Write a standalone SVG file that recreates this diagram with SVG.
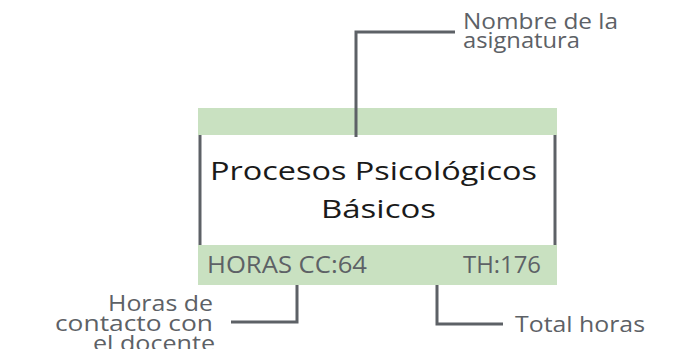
<svg xmlns="http://www.w3.org/2000/svg" width="681" height="349" viewBox="0 0 681 349">
<style>
.bar{fill:#c9e1c1}
.edge{stroke:#5d6166;stroke-width:3;fill:none}
.lbl{font-family:"Open Sans","Liberation Sans",sans-serif;font-size:22px;fill:#5d6166}
.bartxt{font-family:"Open Sans","Liberation Sans",sans-serif;font-size:23px;fill:#5d6166}
.title{font-family:"Open Sans","Liberation Sans",sans-serif;font-size:26px;fill:#1a1a1a}
</style>
<rect width="681" height="349" fill="#ffffff"/>
<g id="card">
<rect class="bar" x="198" y="108" width="359" height="27"/>
<line class="edge" x1="200" y1="135" x2="200" y2="245"/>
<line class="edge" x1="555" y1="135" x2="555" y2="245"/>
<rect class="bar" x="198" y="245" width="359" height="40"/>
<text class="title" x="210" y="180" textLength="327" lengthAdjust="spacingAndGlyphs">Procesos Psicológicos</text>
<text class="title" x="321" y="218" textLength="115" lengthAdjust="spacingAndGlyphs">Básicos</text>
<text class="bartxt" x="207" y="273" textLength="160" lengthAdjust="spacingAndGlyphs">HORAS CC:64</text>
<text class="bartxt" x="463" y="273" textLength="78" lengthAdjust="spacingAndGlyphs">TH:176</text>
</g>
<g id="connectors">
<polyline class="edge" points="356,137 356,32 455,32"/>
<polyline class="edge" points="297,285 297,322 231,322"/>
<polyline class="edge" points="437,285 437,324 503,324"/>
</g>
<g id="label-nombre">
<text class="lbl" x="463" y="29" textLength="155" lengthAdjust="spacingAndGlyphs">Nombre de la</text>
<text class="lbl" x="463" y="48" textLength="117" lengthAdjust="spacingAndGlyphs">asignatura</text>
</g>
<g id="label-horas">
<text class="lbl" x="108" y="311" textLength="105" lengthAdjust="spacingAndGlyphs">Horas de</text>
<text class="lbl" x="55" y="331" textLength="158" lengthAdjust="spacingAndGlyphs">contacto con</text>
<text class="lbl" x="93" y="351" textLength="122" lengthAdjust="spacingAndGlyphs">el docente</text>
</g>
<g id="label-total">
<text class="lbl" x="515" y="332" textLength="130" lengthAdjust="spacingAndGlyphs">Total horas</text>
</g>
</svg>
